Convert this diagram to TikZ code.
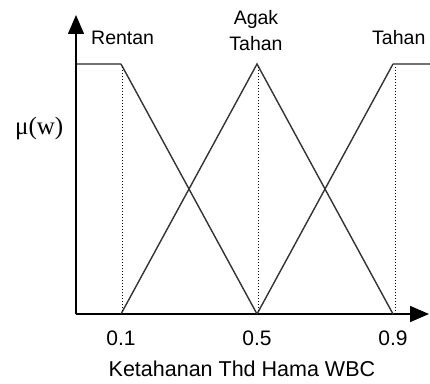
\documentclass[tikz,border=0pt]{standalone}
\usepackage{fontspec}
\setmainfont{Liberation Sans}
\newfontfamily\serifmu{Liberation Serif}
\usetikzlibrary{arrows.meta}

\begin{document}
\begin{tikzpicture}[x=1pt,y=1pt]
		\useasboundingbox (-76,-69) rectangle (354,314);
		\coordinate (O) at (0,0);
		\coordinate (ytip) at (0,299);
		\coordinate (xtip) at (353,0);
		\draw[line width=1.5pt, -{Triangle[length=19pt,width=16pt]}] (O) -- (ytip);
		\draw[line width=1.5pt, -{Triangle[length=19pt,width=16pt]}] (O) -- (xtip);
		% plateaus
		\draw[line width=2.2pt, black!55] (0.75,250) -- (45,250);
		\draw[line width=2.2pt, black!55] (317,250) -- (354,250);
		% membership lines
		\draw[line width=1.4pt, black!80] (45,250) -- (181,0);
		\draw[line width=1.4pt, black!80] (45,0) -- (181,250) -- (317,0);
		\draw[line width=1.4pt, black!80] (181,0) -- (317,250);
		\draw[dotted, line width=1pt] (46,0) -- (46,248);
		\draw[dotted, line width=1pt] (182,0) -- (182,248);
		\draw[dotted, line width=1pt] (319,0) -- (319,248);
		% labels
		\node[anchor=base west, inner sep=0, font=\fontsize{19.5}{24}\selectfont] (rentan) at (15,269) {Rentan};
		\node[anchor=north, inner sep=0, align=center, font=\fontsize{19.5}{26}\selectfont] (agak) at (180,304) {Agak\\Tahan};
		\node[anchor=base west, inner sep=0, font=\fontsize{19.5}{24}\selectfont] (tahan) at (296,269) {Tahan};
		\node[anchor=base west, inner sep=0, font=\serifmu\fontsize{25}{30}\selectfont] (mu) at (-61,179) {μ(w)};
		\node[anchor=base, inner sep=0, font=\fontsize{21}{24}\selectfont] (t1) at (45,-31) {0.1};
		\node[anchor=base, inner sep=0, font=\fontsize{21}{24}\selectfont] (t5) at (181,-31) {0.5};
		\node[anchor=base, inner sep=0, font=\fontsize{21}{24}\selectfont] (t9) at (317,-31) {0.9};
		\node[anchor=base west, inner sep=0, font=\fontsize{21.5}{24}\selectfont] (xlabel) at (32.5,-62) {Ketahanan Thd Hama WBC};
	\end{tikzpicture}
\end{document}
